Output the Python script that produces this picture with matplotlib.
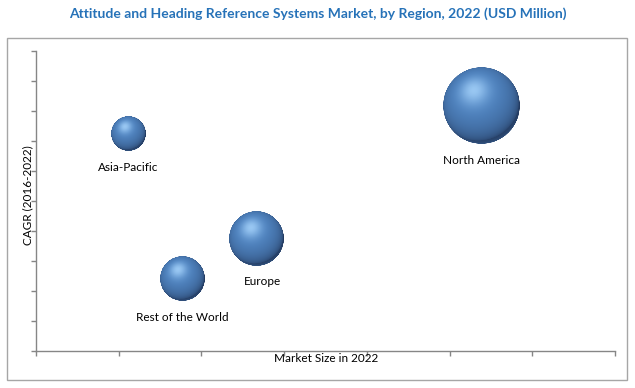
"""
Burbujas 3D por región: CAGR vs tamaño de mercado.
"""

import numpy as np
import matplotlib
matplotlib.use("Agg")
import matplotlib.pyplot as plt
import matplotlib.patches as mpatches
from matplotlib.offsetbox import OffsetImage, AnnotationBbox

# ─── Datos ────────────────────────────────────────────────────────────────
regions     = ["North America", "Asia-Pacific", "Europe", "Rest of the World"]
market_size = [5.39, 1.12, 2.66, 1.77]     # eje x (unidades relativas)
cagr        = [8.15, 7.21, 3.72, 2.38]     # eje y (unidades relativas)
bubble_val  = [1482, 296, 729, 484]        # tamaño de burbuja (area)

TITLE_COLOR = "#2672B8"
AXIS_COLOR = "#868686"
FONT = ["Lato", "DejaVu Sans"]
R_MAX = 38.5        # radio en px de la burbuja mayor
DPI = 100


def make_sphere(n=256):
    """Imagen RGBA de una esfera azul con sombreado tipo Excel."""
    v, u = np.mgrid[1:-1:complex(0, n), -1:1:complex(0, n)]
    r2 = u**2 + v**2
    z = np.sqrt(np.clip(1 - r2, 0, 1))
    L = np.array([-0.2, 0.4, 0.9])
    L = L / np.linalg.norm(L)
    d = np.clip(u*L[0] + v*L[1] + z*L[2], 0, 1)
    dark = np.array([35, 58, 95]) / 255
    mid = np.array([82, 136, 198]) / 255
    light = np.array([165, 210, 250]) / 255
    col = dark + (mid - dark) * (d[..., None] ** 0.55)
    spec = (d ** 14)[..., None]
    col = col + (light - col) * spec * 0.85
    # reflejo leve en el borde inferior
    rim = (np.clip(-v, 0, 1) * (1 - z) ** 2)[..., None] * 0.4
    col = col + (mid - col) * rim
    alpha = np.clip((1 - np.sqrt(r2)) * n / 2 + 0.5, 0, 1)
    return np.dstack([np.clip(col, 0, 1), alpha])


fig = plt.figure(figsize=(6.35, 3.88), dpi=DPI)
fig.patch.set_facecolor("white")

# marco exterior
fig.patches.append(mpatches.Rectangle((6.5/635, 1-380/388), 620/635, 342/388,
                                      transform=fig.transFigure, fill=False,
                                      edgecolor="#a6a6a6", linewidth=1.0))

ax = fig.add_axes([36/635, 1-350.5/388, 579/635, 300/388])
ax.set_xlim(0, 7)
ax.set_ylim(0, 10)
ax.set_xticks(range(8))
ax.set_yticks(range(11))
ax.set_xticklabels([])
ax.set_yticklabels([])
for s in ["top", "right"]:
    ax.spines[s].set_visible(False)
for s in ["left", "bottom"]:
    ax.spines[s].set_color(AXIS_COLOR)
    ax.spines[s].set_linewidth(1.0)
ax.tick_params(direction="out", length=3.5, color=AXIS_COLOR, width=1.0)

sphere = make_sphere(256)
vmax = max(bubble_val)
for name, x, y, v in zip(regions, market_size, cagr, bubble_val):
    r_px = R_MAX * np.sqrt(v / vmax)
    zoom = 2 * r_px / (256 * DPI / 72)
    ab = AnnotationBbox(OffsetImage(sphere, zoom=zoom), (x, y), frameon=False,
                        pad=0, zorder=3)
    ax.add_artist(ab)
    dx = 6 if name == "Europe" else 0
    ax.annotate(name, (x, y), xytext=(dx*0.72, -(r_px + 16)*0.72),
                textcoords="offset points", ha="center", va="center",
                fontsize=8.5, family=FONT, color="black")

fig.text(318/635, 1-14/388,
         "Attitude and Heading Reference Systems Market, by Region, 2022 (USD Million)",
         ha="center", va="center", fontsize=10, fontweight="bold",
         color=TITLE_COLOR, family=FONT)
fig.text(326.5/635, 1-359/388, "Market Size in 2022", ha="center", va="center",
         fontsize=8.5, family=FONT, color="black")
fig.text(28/635, 1-195/388, "CAGR (2016-2022)", ha="center", va="center",
         rotation=90, fontsize=8.5, family=FONT, color="black")

plt.savefig("out.png", dpi=DPI, facecolor="white")
